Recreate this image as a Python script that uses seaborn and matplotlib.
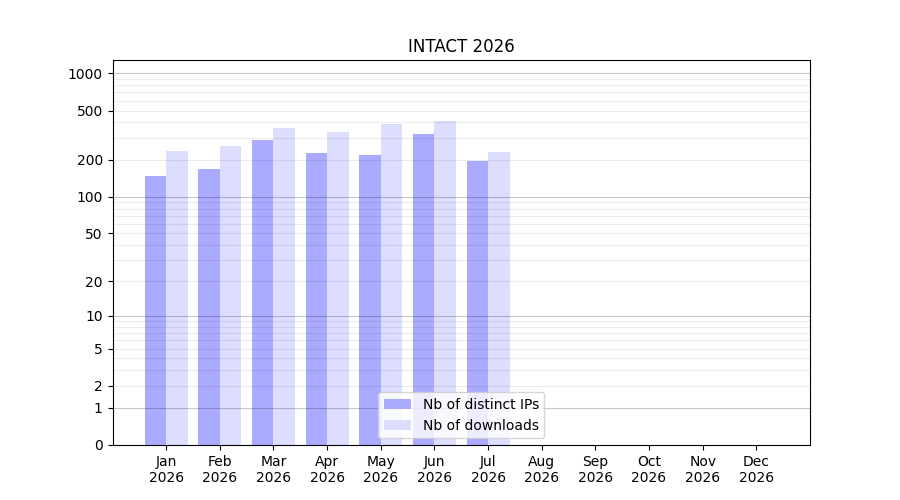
import numpy as np
import pandas as pd
import matplotlib
matplotlib.use('Agg')
import matplotlib.pyplot as plt
import seaborn as sns

months = ['Jan', 'Feb', 'Mar', 'Apr', 'May', 'Jun', 'Jul', 'Aug', 'Sep', 'Oct', 'Nov', 'Dec']
year = '2026'
distinct_ips = [147, 168, 289, 226, 218, 323, 195, 0, 0, 0, 0, 0]
downloads = [235, 258, 361, 335, 389, 411, 231, 0, 0, 0, 0, 0]
series_names = ['Nb of distinct IPs', 'Nb of downloads']
ytick_values = [0, 1, 2, 5, 10, 20, 50, 100, 200, 500, 1000]

labels = [f'{m}\n{year}' for m in months]
df = pd.DataFrame({
    'month': labels * 2,
    'count': distinct_ips + downloads,
    'series': [series_names[0]] * 12 + [series_names[1]] * 12,
})

fig, ax = plt.subplots(figsize=(9, 5), dpi=100)

sns.barplot(data=df, x='month', y='count', hue='series', order=labels,
            hue_order=series_names, palette=['#aaaaff', '#ddddff'],
            width=0.8, saturation=1, linewidth=0, ax=ax, zorder=1)


def fwd(x):
    return np.log10(1 + np.clip(x, 0, None))


def inv(y):
    return 10 ** y - 1


ax.set_yscale('function', functions=(fwd, inv))
ax.set_ylim(0, 1280)
ax.set_xlim(-1, 12)

# grid lines on top of the bars: darker on decades, light elsewhere
for dec in [1, 10, 100]:
    for k in range(2, 10):
        ax.axhline(dec * k, color='black', lw=0.8, alpha=0.08, zorder=2)
for v in [1, 10, 100, 1000]:
    ax.axhline(v, color='black', lw=0.8, alpha=0.22, zorder=2)

ax.set_yticks(ytick_values)
ax.set_yticklabels([str(v) for v in ytick_values])
ax.yaxis.set_minor_locator(matplotlib.ticker.NullLocator())

ax.set_title('INTACT 2026')
ax.set_xlabel('')
ax.set_ylabel('')
ax.legend(loc='lower center', title=None)

plt.savefig('out.png')
